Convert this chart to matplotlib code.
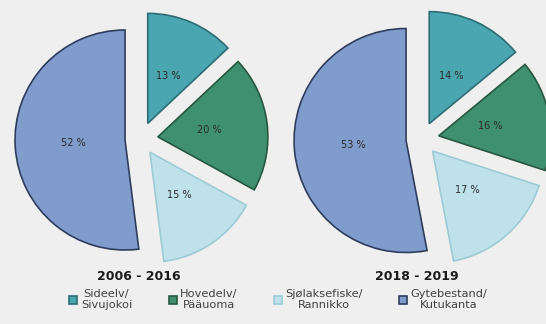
import matplotlib.pyplot as plt
from matplotlib.patches import Patch

categories = ["Sideelv/\nSivujokoi", "Hovedelv/\nPääuoma",
              "Sjølaksefiske/\nRannikko", "Gytebestand/\nKutukanta"]
shares_2006_2016 = [13, 20, 15, 52]
shares_2018_2019 = [14, 16, 17, 53]
titles = ["2006 - 2016", "2018 - 2019"]

face = ["#4aa6b0", "#3e9070", "#bfe2ea", "#7f9ccc"]
edge = ["#2d6d75", "#27583f", "#9ccbd5", "#2f3d5c"]
bg = "#efefef"

fig = plt.figure(figsize=(5.46, 3.24), dpi=100, facecolor=bg)
ax = fig.add_axes([0, 0, 1, 1])
ax.set_facecolor(bg)

# pies are laid out in pixel units so both fit the canvas;
# explode is an absolute offset here, not a fraction of the radius
for vals, cx, r in [(shares_2006_2016, 141, 110), (shares_2018_2019, 422, 112)]:
    wedges, texts, autotexts = ax.pie(
        vals, center=(cx, 185), radius=r, startangle=90, counterclock=False,
        colors=face, explode=[17, 17, 16, 16], autopct=lambda p: "%.0f %%" % p,
        pctdistance=0.47, wedgeprops=dict(linewidth=1.2),
        textprops=dict(fontsize=7, color="#2b2b2b"))
    for w, ec in zip(wedges, edge):
        w.set_edgecolor(ec)

ax.set_xlim(0, 546)
ax.set_ylim(0, 324)
ax.set_aspect("equal")
ax.axis("off")

ax.text(139, 48, titles[0], ha="center", va="center", fontsize=9,
        fontweight="bold", color="#1a1a1a")
ax.text(417, 47, titles[1], ha="center", va="center", fontsize=9,
        fontweight="bold", color="#1a1a1a")

handles = [Patch(facecolor=f, edgecolor=e, linewidth=1.2) for f, e in zip(face, edge)]
leg = fig.legend(handles, categories, loc="center", bbox_to_anchor=(0.51, 0.075),
                 ncol=4, frameon=False, fontsize=8.2, handlelength=0.7,
                 handleheight=0.7, handletextpad=0.3, columnspacing=3.2,
                 labelcolor="#404040", borderaxespad=0)
for t in leg.get_texts():
    t.set_multialignment("center")

fig.savefig("out.png", dpi=100, facecolor=bg)
